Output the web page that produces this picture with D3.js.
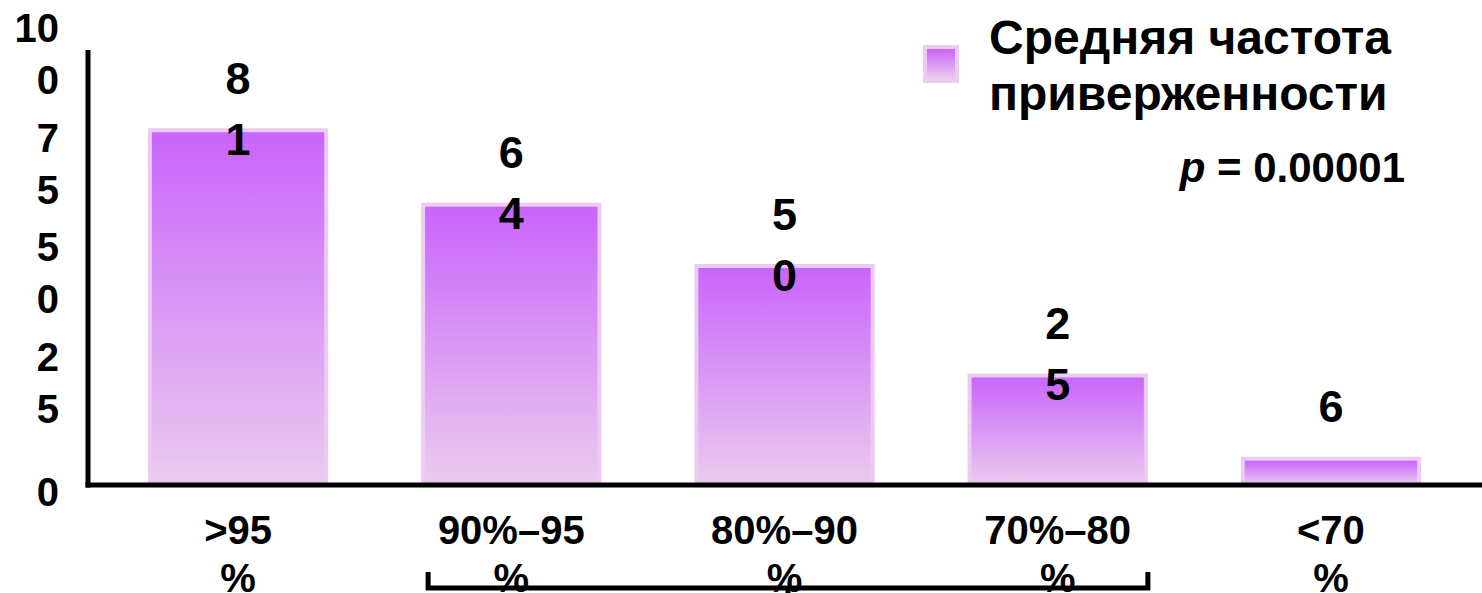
<!DOCTYPE html>
<html><head><meta charset="utf-8">
<script src="https://cdn.jsdelivr.net/npm/d3@7"></script>
<style>
html,body{margin:0;padding:0;background:#fff;}
svg{display:block;font-family:"Liberation Sans",Arial,sans-serif;font-weight:bold;}
</style></head>
<body>
<svg id="c" width="1482" height="593"></svg>
<script>
const categories = [">95%", "90%–95%", "80%–90%", "70%–80%", "<70%"];
const categoryLines = [[">95","%"],["90%–95","%"],["80%–90","%"],["70%–80","%"],["<70","%"]];
const values = [81, 64, 50, 25, 6];
const valueLines = [["8","1"],["6","4"],["5","0"],["2","5"],["6"]];
const yTicks = [0, 25, 50, 75, 100];
const yTickLines = [["0"],["2","5"],["5","0"],["7","5"],["10","0"]];
const legendLines = ["Средняя частота", "приверженности"];
const pText = "0.00001";

const svg = d3.select("#c");
const defs = svg.append("defs");
const grad = defs.append("linearGradient").attr("id","g").attr("x1",0).attr("y1",0).attr("x2",0).attr("y2",1);
grad.append("stop").attr("offset","0%").attr("stop-color","#c965fb");
grad.append("stop").attr("offset","100%").attr("stop-color","#ebcbee");

const x = d3.scaleBand().domain(categories).range([55, 1514]).paddingInner(0.34).paddingOuter(0.34);
const y = d3.scaleLinear().domain([0, 100]).range([485, 47]);

// bars
const bars = svg.append("g");
bars.selectAll("rect.outer").data(values).join("rect")
  .attr("x",(d,i)=>x(categories[i]))
  .attr("y",d=>y(d)-2)
  .attr("width",x.bandwidth())
  .attr("height",d=>y(0)-y(d)+2)
  .attr("fill","#ebcbf2");
bars.selectAll("rect.inner").data(values).join("rect")
  .attr("x",(d,i)=>x(categories[i])+4)
  .attr("y",d=>y(d)+2)
  .attr("width",x.bandwidth()-8)
  .attr("height",d=>y(0)-y(d)-2)
  .attr("fill","url(#g)");

// value labels
values.forEach((v,i)=>{
  const t = svg.append("text").attr("text-anchor","middle").attr("font-size",45)
    .attr("x", x(categories[i]) + x.bandwidth()/2);
  valueLines[i].forEach((s,j)=>{
    t.append("tspan").attr("x", x(categories[i]) + x.bandwidth()/2)
      .attr("y", y(v) - 52 + j*61).attr("dy","0.35em").text(s);
  });
});

// y axis labels
const yAxis = d3.axisLeft(y).tickValues(yTicks).tickSize(0).tickFormat("");
const yg = svg.append("g").attr("transform","translate(88,0)").call(yAxis);
yg.select(".domain").remove();
yTicks.forEach((tv,i)=>{
  const lines = yTickLines[i];
  const n = lines.length;
  const t = svg.append("text").attr("text-anchor","end").attr("font-size",40);
  lines.forEach((s,j)=>{
    t.append("tspan").attr("x",59).attr("y", y(tv) + 7 + (j-(n-1)/2)*52).attr("dy","0.36em").text(s);
  });
});

// axis lines
svg.append("line").attr("x1",88).attr("x2",88).attr("y1",y(100)+3).attr("y2",y(0)+2.5)
  .attr("stroke","#000").attr("stroke-width",5);
svg.append("line").attr("x1",85.5).attr("x2",1482).attr("y1",y(0)).attr("y2",y(0))
  .attr("stroke","#000").attr("stroke-width",5);

// category labels
const xAxis = d3.axisBottom(x).tickSize(0).tickFormat("");
const xg = svg.append("g").attr("transform",`translate(0,${y(0)})`).call(xAxis);
xg.select(".domain").remove();
categories.forEach((c,i)=>{
  const t = svg.append("text").attr("text-anchor","middle").attr("font-size",40);
  categoryLines[i].forEach((s,j)=>{
    t.append("tspan").attr("x", x(c)+x.bandwidth()/2).attr("y", y(0)+45+j*48).attr("dy","0.36em").text(s);
  });
});

// bracket
const bx0 = x(categories[1]) + 7, bx1 = x(categories[3]) + x.bandwidth();
const bm = (bx0+bx1)/2;
svg.append("path").attr("d",`M${bx0},572V588H${bx1}V572`).attr("fill","none")
  .attr("stroke","#000").attr("stroke-width",5);
svg.append("path").attr("d",`M${bm},588V593`).attr("stroke","#000").attr("stroke-width",5);

// legend
svg.append("rect").attr("x",923).attr("y",45).attr("width",36).attr("height",38).attr("fill","#ebcbf2");
svg.append("rect").attr("x",927).attr("y",49).attr("width",28).attr("height",30).attr("fill","url(#g)");
const lt = svg.append("text").attr("font-size",48);
legendLines.forEach((s,j)=>{
  lt.append("tspan").attr("x",989).attr("y",54+j*56).text(s);
});
const pt = svg.append("text").attr("font-size",42).attr("x",1405).attr("y",182).attr("text-anchor","end");
pt.append("tspan").attr("font-style","italic").text("p");
pt.append("tspan").text(" = " + pText);
</script>
</body></html>
